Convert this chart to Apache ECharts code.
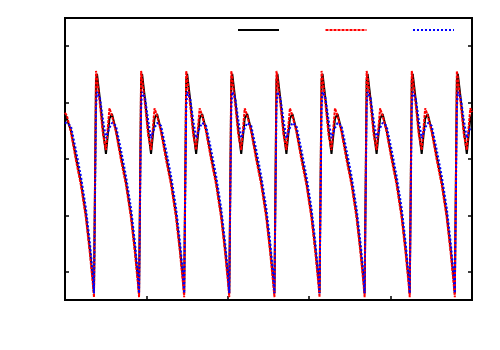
<!DOCTYPE html>
<html>
<head>
<meta charset="utf-8">
<script src="https://cdn.jsdelivr.net/npm/echarts@6/dist/echarts.min.js"></script>
<style>
  html, body { margin: 0; padding: 0; background: #fff; }
  #chart { width: 500px; height: 350px; }
</style>
</head>
<body>
<div id="chart"></div>
<script>
// x positions shared by the three traces (one row per cycle)
const xs = [
  0.000, 0.023, 0.072, 0.134, 0.195, 0.257, 0.306, 0.343,
  0.356, 0.381, 0.393, 0.430, 0.467, 0.503, 0.546, 0.577, 0.626, 0.688, 0.749, 0.811, 0.860, 0.897,
  0.910, 0.935, 0.947, 0.984, 1.021, 1.057, 1.100, 1.131, 1.180, 1.242, 1.303, 1.365, 1.414, 1.451,
  1.464, 1.489, 1.501, 1.538, 1.575, 1.611, 1.654, 1.685, 1.734, 1.796, 1.857, 1.919, 1.968, 2.005,
  2.018, 2.043, 2.055, 2.092, 2.129, 2.165, 2.208, 2.239, 2.288, 2.350, 2.411, 2.473, 2.522, 2.559,
  2.573, 2.598, 2.610, 2.647, 2.684, 2.720, 2.763, 2.794, 2.843, 2.905, 2.966, 3.028, 3.077, 3.114,
  3.127, 3.152, 3.164, 3.201, 3.238, 3.274, 3.317, 3.348, 3.397, 3.459, 3.520, 3.582, 3.631, 3.668,
  3.681, 3.706, 3.718, 3.755, 3.792, 3.828, 3.871, 3.902, 3.951, 4.013, 4.074, 4.136, 4.185, 4.222,
  4.235, 4.260, 4.272, 4.309, 4.346, 4.382, 4.425, 4.456, 4.505, 4.567, 4.628, 4.690, 4.739, 4.776,
  4.789, 4.814, 4.826, 4.863, 4.900, 4.936, 4.979, 5.000
];

const blackY = [
  3.30, 3.30, 3.01, 2.54, 2.09, 1.51, 0.89, 0.35,
  0.12, 3.90, 4.01, 3.55, 3.01, 2.59, 3.22, 3.30, 3.01, 2.54, 2.09, 1.51, 0.89, 0.35,
  0.12, 3.90, 4.01, 3.55, 3.01, 2.59, 3.22, 3.30, 3.01, 2.54, 2.09, 1.51, 0.89, 0.35,
  0.12, 3.90, 4.01, 3.55, 3.01, 2.59, 3.22, 3.30, 3.01, 2.54, 2.09, 1.51, 0.89, 0.35,
  0.12, 3.90, 4.01, 3.55, 3.01, 2.59, 3.22, 3.30, 3.01, 2.54, 2.09, 1.51, 0.89, 0.35,
  0.12, 3.90, 4.01, 3.55, 3.01, 2.59, 3.22, 3.30, 3.01, 2.54, 2.09, 1.51, 0.89, 0.35,
  0.12, 3.90, 4.01, 3.55, 3.01, 2.59, 3.22, 3.30, 3.01, 2.54, 2.09, 1.51, 0.89, 0.35,
  0.12, 3.90, 4.01, 3.55, 3.01, 2.59, 3.22, 3.30, 3.01, 2.54, 2.09, 1.51, 0.89, 0.35,
  0.12, 3.90, 4.01, 3.55, 3.01, 2.59, 3.22, 3.30, 3.01, 2.54, 2.09, 1.51, 0.89, 0.35,
  0.12, 3.90, 4.01, 3.55, 3.01, 2.59, 3.22, 3.28
];

const redY = [
  3.32, 3.27, 2.98, 2.48, 2.04, 1.45, 0.82, 0.27,
  0.05, 4.06, 3.94, 3.46, 2.93, 2.66, 3.40, 3.27, 2.98, 2.48, 2.04, 1.45, 0.82, 0.27,
  0.05, 4.06, 3.94, 3.46, 2.93, 2.66, 3.40, 3.27, 2.98, 2.48, 2.04, 1.45, 0.82, 0.27,
  0.05, 4.06, 3.94, 3.46, 2.93, 2.66, 3.40, 3.27, 2.98, 2.48, 2.04, 1.45, 0.82, 0.27,
  0.05, 4.06, 3.94, 3.46, 2.93, 2.66, 3.40, 3.27, 2.98, 2.48, 2.04, 1.45, 0.82, 0.27,
  0.05, 4.06, 3.94, 3.46, 2.93, 2.66, 3.40, 3.27, 2.98, 2.48, 2.04, 1.45, 0.82, 0.27,
  0.05, 4.06, 3.94, 3.46, 2.93, 2.66, 3.40, 3.27, 2.98, 2.48, 2.04, 1.45, 0.82, 0.27,
  0.05, 4.06, 3.94, 3.46, 2.93, 2.66, 3.40, 3.27, 2.98, 2.48, 2.04, 1.45, 0.82, 0.27,
  0.05, 4.06, 3.94, 3.46, 2.93, 2.66, 3.40, 3.27, 2.98, 2.48, 2.04, 1.45, 0.82, 0.27,
  0.05, 4.06, 3.94, 3.46, 2.93, 2.66, 3.40, 3.33
];

const blueY = [
  3.15, 3.14, 3.09, 2.66, 2.20, 1.63, 1.01, 0.43,
  0.12, 3.40, 3.69, 3.58, 3.19, 2.87, 3.05, 3.14, 3.09, 2.66, 2.20, 1.63, 1.01, 0.43,
  0.12, 3.40, 3.69, 3.58, 3.19, 2.87, 3.05, 3.14, 3.09, 2.66, 2.20, 1.63, 1.01, 0.43,
  0.12, 3.40, 3.69, 3.58, 3.19, 2.87, 3.05, 3.14, 3.09, 2.66, 2.20, 1.63, 1.01, 0.43,
  0.12, 3.40, 3.69, 3.58, 3.19, 2.87, 3.05, 3.14, 3.09, 2.66, 2.20, 1.63, 1.01, 0.43,
  0.12, 3.40, 3.69, 3.58, 3.19, 2.87, 3.05, 3.14, 3.09, 2.66, 2.20, 1.63, 1.01, 0.43,
  0.12, 3.40, 3.69, 3.58, 3.19, 2.87, 3.05, 3.14, 3.09, 2.66, 2.20, 1.63, 1.01, 0.43,
  0.12, 3.40, 3.69, 3.58, 3.19, 2.87, 3.05, 3.14, 3.09, 2.66, 2.20, 1.63, 1.01, 0.43,
  0.12, 3.40, 3.69, 3.58, 3.19, 2.87, 3.05, 3.14, 3.09, 2.66, 2.20, 1.63, 1.01, 0.43,
  0.12, 3.40, 3.69, 3.58, 3.19, 2.87, 3.05, 3.05
];

const seriesNames = ['s1', 's2', 's3'];
const xTicks = [1, 2, 3, 4];
const yTicks = [0.5, 1.5, 2.5, 3.5, 4.5];

const pairs = ys => xs.map((x, i) => [x, ys[i]]);

const tick = vals => ({
  show: true, inside: true, length: 4, customValues: vals,
  lineStyle: { color: '#000', width: 1.5 }
});

const chart = echarts.init(document.getElementById('chart'), null, { renderer: 'canvas' });
chart.setOption({
  animation: false,
  backgroundColor: '#fff',
  grid: {
    left: 65, right: 28, top: 18, bottom: 50,
    show: true, borderColor: '#000', borderWidth: 2
  },
  legend: {
    top: 21, left: 232,
    itemWidth: 41, itemHeight: 8, itemGap: 44.5,
    formatter: () => '',
    textStyle: { fontSize: 1 },
    itemStyle: { opacity: 0 },
    data: seriesNames
  },
  xAxis: {
    type: 'value', min: 0, max: 5,
    axisLine: { show: false },
    axisTick: tick(xTicks),
    axisLabel: { show: false },
    splitLine: { show: false }
  },
  yAxis: [
    {
      type: 'value', min: 0, max: 5,
      axisLine: { show: false },
      axisTick: tick(yTicks),
      axisLabel: { show: false },
      splitLine: { show: false }
    },
    {
      type: 'value', min: 0, max: 5, position: 'right',
      axisLine: { show: false },
      axisTick: tick(yTicks),
      axisLabel: { show: false },
      splitLine: { show: false }
    }
  ],
  series: [
    {
      name: seriesNames[0], type: 'line', data: pairs(blackY),
      symbol: 'none', lineStyle: { color: '#000', width: 2 }, itemStyle: { color: '#000' }
    },
    {
      name: seriesNames[1], type: 'line', data: pairs(redY),
      symbol: 'none', lineStyle: { color: '#ff0000', width: 2, type: [3, 1] }, itemStyle: { color: '#ff0000' }
    },
    {
      name: seriesNames[2], type: 'line', data: pairs(blueY),
      symbol: 'none', lineStyle: { color: '#0000ff', width: 2, type: [2, 2] }, itemStyle: { color: '#0000ff' }
    }
  ]
});
</script>
</body>
</html>
